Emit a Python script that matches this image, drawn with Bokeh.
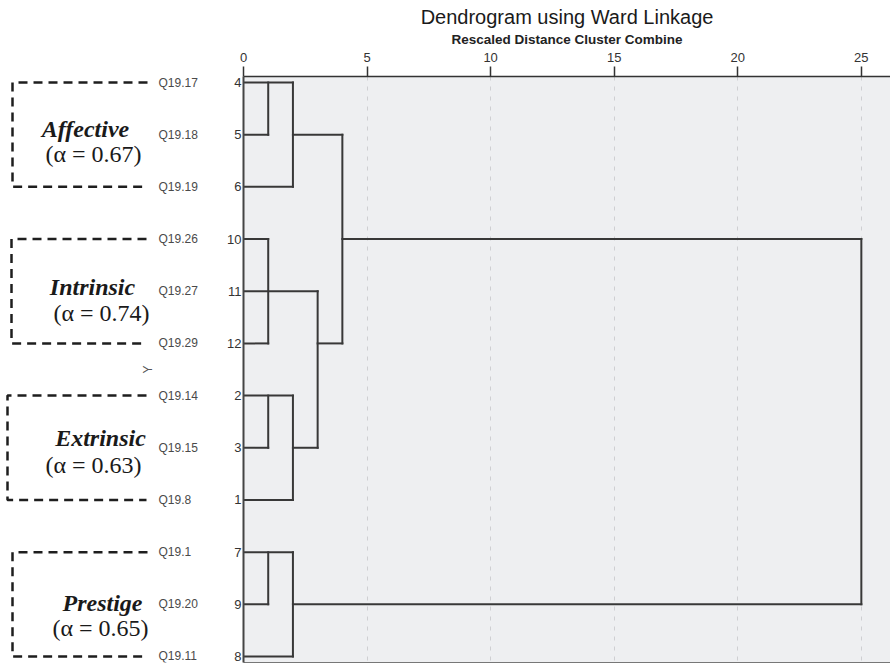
import math
from bokeh.plotting import figure
from bokeh.models import Range1d, FixedTicker, ColumnDataSource, LinearAxis
from bokeh.layouts import row
from bokeh.embed import file_html
from bokeh.resources import INLINE
from bokeh.core.properties import value

# ---------------- data ----------------
leaf_ids = ["4", "5", "6", "10", "11", "12", "2", "3", "1", "7", "9", "8"]
items = ["Q19.17", "Q19.18", "Q19.19", "Q19.26", "Q19.27", "Q19.29",
         "Q19.14", "Q19.15", "Q19.8", "Q19.1", "Q19.20", "Q19.11"]
group_names = ["Affective", "Intrinsic", "Extrinsic", "Prestige"]
group_alpha = [0.67, 0.74, 0.63, 0.65]
group_first = [0, 3, 6, 9]
group_last = [2, 5, 8, 11]
dist_ticks = [0, 5, 10, 15, 20, 25]

# horizontal dendrogram links: leaf row, from distance, to distance
h_row = [0, 1, 2, 1, 3, 5, 4, 5, 6, 7, 8, 7, 9, 10, 11, 10, 3]
h_from = [0, 0, 0, 2, 0, 0, 0, 3, 0, 0, 0, 2, 0, 0, 0, 2, 4]
h_to = [2, 1, 2, 4, 1, 1, 3, 4, 2, 1, 2, 3, 2, 1, 2, 25, 25]
# vertical dendrogram links: distance, from row, to row
v_dist = [1, 2, 4, 1, 3, 1, 2, 1, 2, 25]
v_from = [0, 0, 1, 3, 4, 6, 6, 9, 9, 3]
v_to = [1, 2, 5, 5, 7, 7, 8, 10, 11, 10]

# ---------------- layout ----------------
PAD = 0.115
ROW_PX = 52.18
TOP = 76
H = 663
yr = Range1d(len(leaf_ids) - 1 + PAD, -PAD)

SANS = "Liberation Sans"
SERIF = "Liberation Serif"
LINE = "#383838"

p = figure(width=675, height=H, x_range=Range1d(0, 26.18), y_range=yr,
           x_axis_location="above", toolbar_location=None, output_backend="svg",
           min_border_left=28, min_border_right=0, min_border_top=TOP,
           min_border_bottom=1)
p.background_fill_color = "#eeeff1"
p.border_fill_color = "white"
p.outline_line_color = None

p.title.text = "Dendrogram using Ward Linkage"
p.title.align = "center"
p.title.text_font = SANS
p.title.text_font_size = "20px"
p.title.text_font_style = "normal"
p.title.text_color = "#1a1a1a"
p.title.standoff = 2

xa = p.xaxis[0]
xa.ticker = FixedTicker(ticks=dist_ticks)
xa.axis_label = "Rescaled Distance Cluster Combine"
xa.axis_label_text_font = SANS
xa.axis_label_text_font_size = "13.5px"
xa.axis_label_text_font_style = "bold"
xa.axis_label_text_color = "#222222"
xa.axis_label_standoff = 3
xa.major_label_text_font = SANS
xa.major_label_text_font_size = "13px"
xa.major_label_text_color = "#333333"
xa.major_label_standoff = 5
xa.major_tick_out = 10
xa.major_tick_in = 0
xa.minor_tick_out = 0
xa.minor_tick_in = 0
xa.axis_line_color = "#333333"
xa.axis_line_width = 1.5
xa.major_tick_line_color = "#333333"
xa.major_tick_line_width = 1.5

ya = p.yaxis[0]
ya.ticker = FixedTicker(ticks=list(range(len(leaf_ids))))
ya.major_label_overrides = {i: s for i, s in enumerate(leaf_ids)}
ya.major_label_text_font = SANS
ya.major_label_text_font_size = "13px"
ya.major_label_text_color = "#333333"
ya.major_label_standoff = 2
ya.major_tick_out = 0
ya.major_tick_in = 0
ya.minor_tick_out = 0
ya.minor_tick_in = 0
ya.axis_line_color = "#444444"
ya.axis_line_width = 2

bottom = LinearAxis(ticker=FixedTicker(ticks=[]), axis_line_color="#777777",
                    axis_line_width=1, major_tick_out=0, major_tick_in=0,
                    minor_tick_out=0, minor_tick_in=0)
p.add_layout(bottom, "below")

p.ygrid.visible = False
p.xgrid.ticker = FixedTicker(ticks=dist_ticks)
p.xgrid.grid_line_color = "#cfcfd2"
p.xgrid.grid_line_dash = "4 6"
p.xgrid.grid_line_width = 1

p.segment(x0=h_from, y0=h_row, x1=h_to, y1=h_row, line_color=LINE,
          line_width=2, line_cap="square")
p.segment(x0=v_dist, y0=v_from, x1=v_dist, y1=v_to, line_color=LINE,
          line_width=2, line_cap="square")

# ---------------- left panel: item codes, groups ----------------
q = figure(width=215, height=H, x_range=Range1d(0, 215), y_range=yr,
           x_axis_location=None, y_axis_location=None,
           toolbar_location=None, output_backend="svg",
           min_border_left=0, min_border_right=0, min_border_top=TOP,
           min_border_bottom=1)
q.grid.visible = False
q.outline_line_color = None
q.background_fill_color = "white"
q.border_fill_color = "white"

q.text(x=[158] * len(items), y=list(range(len(items))), text=items,
       text_font=value(SANS), text_font_size="12px", text_color="#4a4a4a",
       text_align="left", text_baseline="middle")

q.text(x=[147], y=[(len(leaf_ids) - 1) / 2], text=["Y"], angle=math.pi / 2,
       text_font=value(SANS), text_font_size="12px", text_color="#555555",
       text_align="center", text_baseline="middle")

box_left = [12, 11, 7, 12]
box_right = [147, 146, 146, 147]
xs, ys = [], []
for i in range(len(group_names)):
    xs.append([box_right[i], box_left[i], box_left[i], box_right[i]])
    ys.append([group_first[i], group_first[i], group_last[i], group_last[i]])
q.multi_line(xs=xs, ys=ys, line_color="#1e1e1e", line_width=2.5,
             line_dash="9 6")

name_x = [85, 92, 100, 102]
name_dy = [-6, -4, -10, -1]
alpha_x = [93, 101, 93, 100]
alpha_dy = [19, 22, 17, 24]
mid = [(a + b) / 2 for a, b in zip(group_first, group_last)]
src = ColumnDataSource(dict(
    nx=name_x,
    ny=[m + d / ROW_PX for m, d in zip(mid, name_dy)],
    name=group_names,
    ax=alpha_x,
    ay=[m + d / ROW_PX for m, d in zip(mid, alpha_dy)],
    atext=["(α = %.2f)" % a for a in group_alpha],
))
q.text(x="nx", y="ny", text="name", source=src, text_font=value(SERIF),
       text_font_size="24px", text_font_style="bold italic",
       text_color="#1a1a1a", text_align="center", text_baseline="alphabetic")
q.text(x="ax", y="ay", text="atext", source=src, text_font=value(SERIF),
       text_font_size="24px", text_color="#1a1a1a", text_align="center",
       text_baseline="alphabetic")

layout = row(q, p)
open("out.html", "w").write(file_html(layout, INLINE))
